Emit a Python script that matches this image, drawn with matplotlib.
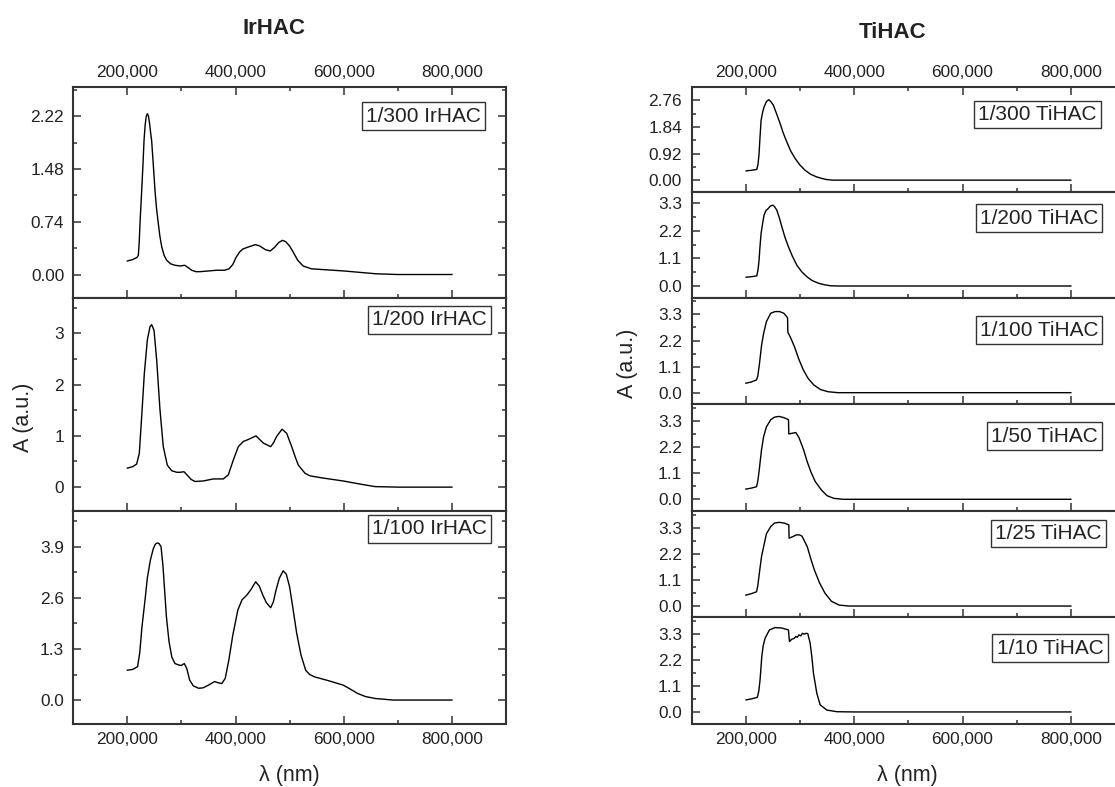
import matplotlib
matplotlib.use('Agg')
import matplotlib.pyplot as plt
from matplotlib.ticker import MultipleLocator, FormatStrFormatter, FuncFormatter

plt.rcParams['font.family'] = ['Liberation Sans', 'DejaVu Sans']

# ---- IrHAC spectra (wavelength in nm, absorbance a.u.) ----
ir300_wl = [200, 210, 218, 220.4, 222, 223.5, 226.6, 229, 230.9, 233, 235, 237, 239, 241, 243, 245,
            248, 251.2, 254, 257.3, 260, 263.6, 268, 272.8, 280, 288, 298, 306, 312, 319, 327, 335,
            350, 365, 380, 388, 395, 401, 408, 414, 425, 437, 445, 455, 464, 472, 480, 487, 493,
            500, 507, 515, 525, 540, 560, 600, 630, 660, 700, 750, 800]
ir300_A = [0.19, 0.21, 0.24, 0.27, 0.45, 0.72, 1.18, 1.55, 1.88, 2.10, 2.22, 2.26, 2.23, 2.13, 2.00,
           1.88, 1.55, 1.18, 0.93, 0.72, 0.55, 0.39, 0.27, 0.20, 0.15, 0.13, 0.12, 0.13, 0.10, 0.06,
           0.04, 0.04, 0.05, 0.06, 0.06, 0.08, 0.14, 0.24, 0.32, 0.36, 0.39, 0.42, 0.40, 0.35, 0.33,
           0.38, 0.45, 0.48, 0.46, 0.40, 0.31, 0.20, 0.12, 0.08, 0.07, 0.05, 0.03, 0.01, 0.0, 0.0, 0.0]

ir200_wl = [200.1, 210, 217.3, 222.2, 226.6, 231.5, 237, 242, 245, 249.4, 254.3, 260.4, 266.5,
            273.9, 282, 291.2, 298, 304.8, 312.8, 318, 325.1, 340.5, 359, 377.5, 386.7, 396, 405.2,
            414.4, 423.7, 437.9, 451.4, 465, 470, 476.1, 486, 494.6, 503.9, 510, 516.1, 528.5,
            537.7, 560, 599, 630, 658, 700, 750, 800]
ir200_A = [0.37, 0.40, 0.45, 0.66, 1.38, 2.22, 2.87, 3.13, 3.17, 3.06, 2.48, 1.51, 0.79, 0.43, 0.32,
           0.29, 0.29, 0.30, 0.21, 0.15, 0.11, 0.12, 0.16, 0.16, 0.24, 0.53, 0.79, 0.89, 0.93, 1.00,
           0.86, 0.79, 0.86, 0.99, 1.13, 1.05, 0.79, 0.60, 0.43, 0.27, 0.22, 0.18, 0.12, 0.06, 0.01,
           0.0, 0.0, 0.0]

ir100_wl = [200, 210, 219, 223, 227, 232.7, 237, 242.6, 248, 252, 255.8, 259, 262.4, 266, 272.3,
            277, 282.2, 288, 295.4, 300, 305.3, 310, 315.2, 322, 331.7, 340, 350, 361.4, 368, 374.6,
            381, 387.7, 395, 404.3, 412, 420.8, 428, 437.2, 444, 450.5, 457, 465, 470, 474.9, 481,
            488.1, 494, 500, 506, 513.1, 521, 529.7, 537, 546.1, 570, 599, 612, 625.4, 640, 658,
            691, 750, 800]
ir100_A = [0.76, 0.78, 0.85, 1.20, 1.85, 2.54, 3.10, 3.56, 3.85, 3.97, 4.00, 3.98, 3.90, 3.40, 2.12,
           1.50, 1.10, 0.93, 0.89, 0.88, 0.93, 0.80, 0.51, 0.36, 0.30, 0.31, 0.38, 0.47, 0.44, 0.42,
           0.55, 1.02, 1.65, 2.29, 2.55, 2.67, 2.80, 3.01, 2.90, 2.67, 2.48, 2.35, 2.50, 2.80, 3.10,
           3.29, 3.20, 2.88, 2.35, 1.70, 1.15, 0.76, 0.65, 0.59, 0.50, 0.38, 0.28, 0.17, 0.09, 0.04,
           0.0, 0.0, 0.0]

# ---- TiHAC spectra ----
ti300_wl = [200.4, 210, 220.1, 222.5, 224.4, 226, 228.1, 231, 233.6, 238, 242.3, 246, 250.8, 257,
            263.2, 269, 275.6, 283, 290.9, 300, 309.4, 320, 331, 340, 349.5, 360, 400, 500, 600, 700, 800]
ti300_A = [0.32, 0.34, 0.37, 0.55, 0.92, 1.45, 2.07, 2.35, 2.53, 2.72, 2.78, 2.72, 2.59, 2.28,
           1.96, 1.63, 1.32, 1.00, 0.75, 0.52, 0.34, 0.20, 0.11, 0.06, 0.02, 0.0, 0.0, 0.0, 0.0, 0.0, 0.0]

ti200_wl = [200.4, 210, 220.1, 222.5, 224.4, 226, 228.1, 231, 233.6, 237, 241.6, 245, 249.7, 253,
            257.1, 262, 266.4, 272, 278.6, 286, 294.1, 303, 312.6, 322, 334, 345, 355.6, 370, 400,
            500, 600, 700, 800]
ti200_A = [0.35, 0.37, 0.40, 0.65, 1.03, 1.55, 2.09, 2.50, 2.82, 3.00, 3.09, 3.18, 3.22, 3.16,
           3.02, 2.70, 2.36, 1.95, 1.56, 1.18, 0.83, 0.57, 0.37, 0.22, 0.11, 0.05, 0.01, 0.0, 0.0,
           0.0, 0.0, 0.0, 0.0]

ti100_wl = [200, 210, 219.7, 222, 225, 229, 232.8, 238, 245.9, 254, 262.3, 270, 275.3, 277, 277.5,
            283, 289.7, 298, 306.1, 315, 325.7, 338, 352, 370, 400, 500, 600, 700, 800]
ti100_A = [0.40, 0.45, 0.54, 0.70, 1.20, 2.00, 2.50, 3.00, 3.35, 3.42, 3.42, 3.35, 3.21, 3.15, 2.55,
           2.30, 1.94, 1.40, 0.96, 0.60, 0.32, 0.13, 0.04, 0.0, 0.0, 0.0, 0.0, 0.0, 0.0]

ti50_wl = [200, 210, 219.7, 222, 225, 229, 232.8, 238, 245.9, 253, 261, 270, 278.7, 279.3, 285,
           292.3, 298, 306.7, 313, 319.8, 328, 339.5, 350, 362.4, 380, 400, 500, 600, 700, 800]
ti50_A = [0.43, 0.47, 0.53, 0.75, 1.30, 2.10, 2.64, 3.05, 3.35, 3.46, 3.49, 3.44, 3.35, 2.75, 2.78,
          2.81, 2.60, 2.08, 1.60, 1.17, 0.75, 0.39, 0.15, 0.04, 0.0, 0.0, 0.0, 0.0, 0.0, 0.0]

ti25_wl = [200, 210, 219.7, 222, 225, 229, 232.8, 238, 245.9, 253, 262.3, 272, 279.3, 279.8, 286,
           293, 299, 303.5, 308, 313.4, 320, 326.5, 336, 346.1, 358, 372.3, 390, 400, 500, 600, 700, 800]
ti25_A = [0.46, 0.52, 0.60, 0.85, 1.40, 2.10, 2.50, 3.05, 3.35, 3.50, 3.53, 3.49, 3.42, 2.86, 2.92,
          3.00, 3.00, 2.95, 2.75, 2.50, 1.98, 1.52, 0.98, 0.54, 0.20, 0.04, 0.0, 0.0, 0.0, 0.0, 0.0, 0.0]

ti10_wl = [200.4, 210, 221.3, 224, 226.2, 229.4, 232, 235.5, 243.5, 254, 266.4, 278.6, 280.5, 284.8,
           289.1, 292.2, 295.2, 297.8, 301.5, 304.5, 307.6, 311.3, 314.4, 318.7, 321.8, 324.8, 331,
           337.2, 349.5, 368, 400, 500, 600, 700, 800]
ti10_A = [0.51, 0.55, 0.62, 0.90, 1.36, 2.34, 2.80, 3.12, 3.47, 3.57, 3.55, 3.47, 2.98, 3.08, 3.11,
          3.19, 3.16, 3.26, 3.22, 3.33, 3.29, 3.33, 3.31, 2.91, 2.34, 1.64, 0.79, 0.30, 0.08, 0.01,
          0.0, 0.0, 0.0, 0.0, 0.0]

ir_names = ['1/300 IrHAC', '1/200 IrHAC', '1/100 IrHAC']
ti_names = ['1/300 TiHAC', '1/200 TiHAC', '1/100 TiHAC', '1/50 TiHAC', '1/25 TiHAC', '1/10 TiHAC']

W, H = 1115, 787
fig = plt.figure(figsize=(W / 100, H / 100), dpi=100)
dark = '#333333'


def add_panel(left, right, top, bottom):
    return fig.add_axes([left / W, 1 - bottom / H, (right - left) / W, (bottom - top) / H])


def style(ax, ylim, step, fmt, first, last, ypad):
    ax.set_xlim(100, 900)
    ax.set_ylim(*ylim)
    ax.xaxis.set_major_locator(MultipleLocator(200))
    ax.xaxis.set_minor_locator(MultipleLocator(100))
    ax.xaxis.set_major_formatter(FuncFormatter(lambda v, p: f'{v:.3f}'.replace('.', ',')))
    ax.yaxis.set_major_locator(MultipleLocator(step))
    ax.yaxis.set_minor_locator(MultipleLocator(step / 2))
    ax.yaxis.set_major_formatter(FormatStrFormatter(fmt))
    ax.tick_params(which='both', direction='in', top=first, bottom=True, left=True, right=True,
                   labeltop=first, labelbottom=last, labelsize=12.4, colors=dark, labelcolor='#222222')
    ax.tick_params(which='major', length=5.5, width=1.1)
    ax.tick_params(which='minor', length=2.7, width=1.1)
    ax.tick_params(axis='x', which='major', pad=5.5)
    ax.tick_params(axis='y', which='major', pad=ypad)
    for s in ax.spines.values():
        s.set_color(dark)
        s.set_linewidth(1.5)


def box_label(text, cx, cy):
    fig.text(cx / W, 1 - cy / H, text, ha='center', va='center', fontsize=15, color='#222222',
             bbox=dict(boxstyle='square,pad=0.2', fc='white', ec=dark, lw=1.0))


# ---- left column: IrHAC ----
ir_data = [(ir300_wl, ir300_A), (ir200_wl, ir200_A), (ir100_wl, ir100_A)]
ir_bounds = [87.3, 298, 510.7, 724]
ir_lims = [(-0.33, 2.63), (-0.46, 3.69), (-0.61, 4.82)]
ir_steps = [0.74, 1.0, 1.3]
ir_fmts = ['%.2f', '%d', '%.1f']
ir_boxes = [(423.5, 116), (429.5, 320), (429.5, 529)]
for i, (wl, a) in enumerate(ir_data):
    ax = add_panel(73.2, 506, ir_bounds[i], ir_bounds[i + 1])
    ax.plot(wl, a, color='black', lw=1.0)
    style(ax, ir_lims[i], ir_steps[i], ir_fmts[i], i == 0, i == 2, 6.5)
    box_label(ir_names[i], *ir_boxes[i])

# ---- right column: TiHAC ----
ti_data = [(ti300_wl, ti300_A), (ti200_wl, ti200_A), (ti100_wl, ti100_A),
           (ti50_wl, ti50_A), (ti25_wl, ti25_A), (ti10_wl, ti10_A)]
ti_bounds = [87.3, 192.3, 298.3, 404.3, 510.7, 616.7, 724]
ti_lims = [(-0.42, 3.21), (-0.49, 3.73), (-0.49, 3.98), (-0.48, 4.0), (-0.45, 4.02), (-0.51, 4.03)]
ti_steps = [0.92, 1.1, 1.1, 1.1, 1.1, 1.1]
ti_fmts = ['%.2f', '%.1f', '%.1f', '%.1f', '%.1f', '%.1f']
ti_boxes = [(1037.5, 114.5), (1039, 218), (1039, 330), (1044.5, 436), (1048.5, 533.7), (1050, 648)]
for i, (wl, a) in enumerate(ti_data):
    ax = add_panel(691.7, 1125, ti_bounds[i], ti_bounds[i + 1])
    ax.plot(wl, a, color='black', lw=1.0)
    style(ax, ti_lims[i], ti_steps[i], ti_fmts[i], i == 0, i == 5, 7)
    box_label(ti_names[i], *ti_boxes[i])

# titles and axis labels
fig.text(274 / W, 1 - 28 / H, 'IrHAC', ha='center', va='center', fontsize=16, fontweight='bold', color='#222222')
fig.text(892.7 / W, 1 - 32 / H, 'TiHAC', ha='center', va='center', fontsize=16, fontweight='bold', color='#222222')
fig.text(23 / W, 1 - 417 / H, 'A (a.u.)', rotation=90, ha='center', va='center', fontsize=15.5, color='#222222')
fig.text(627 / W, 1 - 363 / H, 'A (a.u.)', rotation=90, ha='center', va='center', fontsize=15.5, color='#222222')
fig.text(289 / W, 1 - 776 / H, 'λ (nm)', ha='center', va='center', fontsize=15.5, color='#222222')
fig.text(907 / W, 1 - 776 / H, 'λ (nm)', ha='center', va='center', fontsize=15.5, color='#222222')

fig.savefig('out.png', dpi=100)
